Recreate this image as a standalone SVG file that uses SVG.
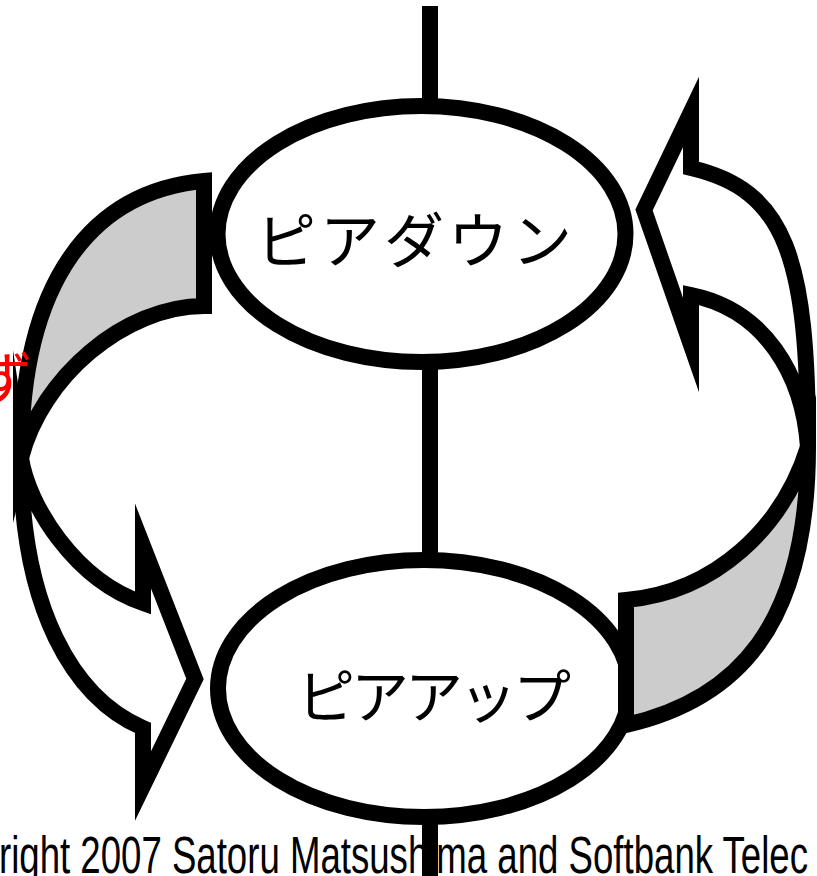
<svg xmlns="http://www.w3.org/2000/svg" width="817" height="876" viewBox="0 0 817 876">
<style>
.ln{stroke:#000;stroke-width:16;fill:none}
.node ellipse{fill:#fff;stroke:#000;stroke-width:16}
.arr{stroke:#000;stroke-width:16;stroke-linejoin:miter;stroke-miterlimit:20}
.back{fill:#cccccc}
.front{fill:#fff}
.lbl{font-family:"Noto Sans CJK JP","Noto Sans CJK SC",sans-serif;fill:#000}
</style>
<rect width="817" height="876" fill="#fff"/>
<text id="copyright" transform="translate(-1,873) scale(0.704,1)" font-family="Liberation Sans, Arial, sans-serif" font-size="52" fill="#000">right 2007 Satoru Matsushima and Softbank Telec</text>
<g id="peer-down" class="node">
<ellipse cx="421.5" cy="234" rx="204" ry="128"/>
<text class="lbl" x="416" y="263" font-size="60" letter-spacing="4" text-anchor="middle">ピアダウン</text>
</g>
<g id="peer-up" class="node">
<ellipse cx="424" cy="688.5" rx="206" ry="128.5"/>
<text class="lbl" x="432" y="718" font-size="58" letter-spacing="-4" text-anchor="middle">ピアアップ</text>
</g>
<g id="connectors">
<line class="ln" x1="430" y1="6" x2="430" y2="104"/>
<line class="ln" x1="430" y1="364" x2="430" y2="558"/>
<line class="ln" x1="430" y1="818" x2="430" y2="876"/>
<g id="arrow-down-to-up">
<path class="arr back" d="M204,181 C94,191 21,278 21,458 C41,378 124,306 204,306 Z"/>
<path class="arr front" d="M21,458 C21,608 73,698 143,728 L143,786 L195,679 L143,546 L143,603 C75,580 28,505 21,458 Z"/>
</g>
<g id="arrow-up-to-down">
<path class="arr back" d="M626,725 C736,700 808,627 808,447 C783,527 716,592 626,600 Z"/>
<path class="arr front" d="M808,447 C808,257 786,190 691,168 L691,112 L644,210 L691,345 L691,295 C765,310 803,375 808,447 Z"/>
</g>
</g>
<text x="33" y="400" text-anchor="end" font-size="58" fill="#ff0000" font-family="Noto Sans CJK JP, sans-serif">ず</text>
</svg>
